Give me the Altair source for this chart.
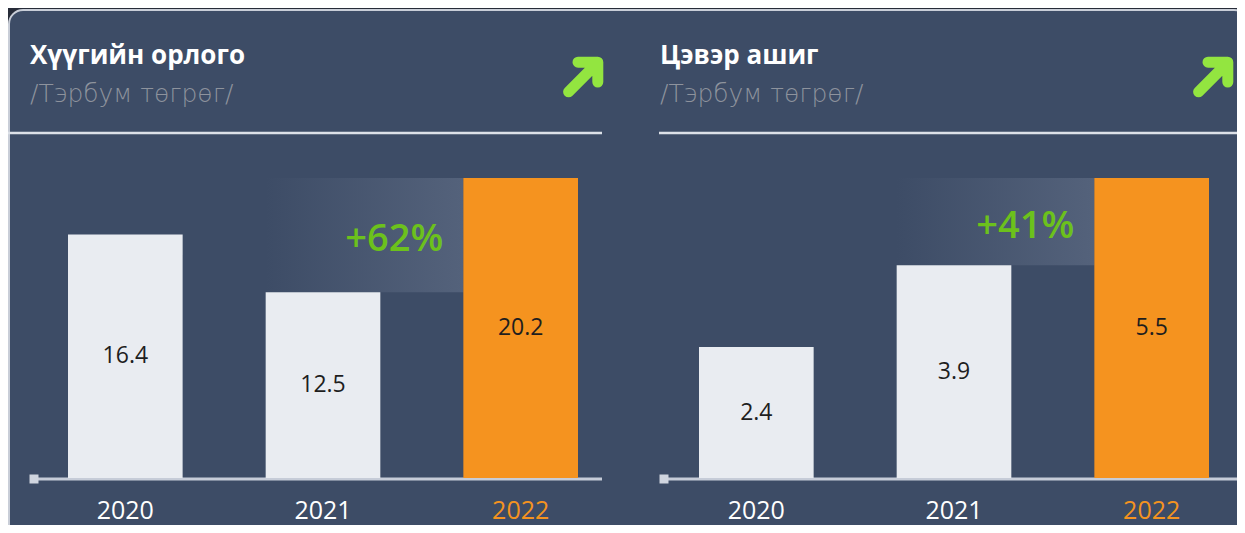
import altair as alt
import pandas as pd

# ---- data ----
years = ["2020", "2021", "2022"]
income = [16.4, 12.5, 20.2]        # Хүүгийн орлого, тэрбум төгрөг
profit = [2.4, 3.9, 5.5]           # Цэвэр ашиг, тэрбум төгрөг
titles = ["Хүүгийн орлого", "Цэвэр ашиг"]
subtitles = ["/Тэрбум төгрөг/", "/Тэрбум төгрөг/"]
growth = ["+62%", "+41%"]

# ---- style ----
OUTER = "#272c39"
PANEL = "#3d4c66"
BORDER = "#c9ced8"
LIGHT = "#e9ecf1"
ORANGE = "#f5931f"
GREEN_TXT = "#6cc11c"
GREEN_ARROW = "#93e540"
GREY = "#8e939d"
LINE = "#dde1e8"
FONT = "Open Sans"
W, H = 1229, 517

one = pd.DataFrame({"k": [0]})


def panel(values, label, x_range):
    df = pd.DataFrame({"year": years, "value": values})
    df["mid"] = df["value"] / 2
    band = pd.DataFrame({"from": [years[1]], "to": [years[2]],
                         "y1": [values[1]], "y2": [values[2]], "label": [label]})
    band["ym"] = (band["y1"] + band["y2"]) / 2
    xs = alt.Scale(domain=years, range=x_range, paddingInner=0.42, paddingOuter=0)
    ys = alt.Scale(domain=[0, values[2]], range=[470, 170], nice=False, zero=True)

    grad = alt.Chart(band).mark_rect(
        fill=alt.Gradient(gradient="linear",
                          stops=[alt.GradientStop(color=PANEL, offset=0),
                                 alt.GradientStop(color="#54627b", offset=1)],
                          x1=0, x2=1, y1=0, y2=0)
    ).encode(
        x=alt.X("from:O", scale=xs, axis=None, bandPosition=0),
        x2=alt.X2("to:O", bandPosition=0),
        y=alt.Y("y1:Q", scale=ys, axis=None),
        y2="y2:Q",
    )
    bars = alt.Chart(df).mark_bar().encode(
        x=alt.X("year:O", scale=xs, axis=None),
        y=alt.Y("value:Q", scale=ys, axis=None),
        color=alt.condition(alt.datum.year == years[2], alt.value(ORANGE), alt.value(LIGHT)),
    )
    vals = alt.Chart(df).mark_text(font=FONT, fontSize=23, color="#1e1e1e", baseline="middle").encode(
        x=alt.X("year:O", scale=xs, axis=None),
        y=alt.Y("mid:Q", scale=ys, axis=None),
        text=alt.Text("value:Q", format=".1f"),
    )
    yrs = alt.Chart(df).mark_text(font=FONT, fontSize=25, baseline="middle").encode(
        x=alt.X("year:O", scale=xs, axis=None),
        y=alt.value(503),
        text="year:N",
        color=alt.condition(alt.datum.year == years[2], alt.value(ORANGE), alt.value("white")),
    )
    pct = alt.Chart(band).mark_text(font=FONT, fontSize=38, fontWeight=600, color=GREEN_TXT,
                                    align="right", baseline="middle", dx=-20, dy=5).encode(
        x=alt.X("to:O", scale=xs, axis=None, bandPosition=0),
        y=alt.Y("ym:Q", scale=ys, axis=None),
        text="label:N",
    )
    return alt.layer(grad, bars, vals, yrs, pct)


bg = alt.Chart(one).mark_rect(fill=PANEL, stroke=BORDER, strokeWidth=2, cornerRadius=14).encode(
    x=alt.value(1), x2=alt.value(1240), y=alt.value(2), y2=alt.value(600))

dividers = [
    alt.Chart(one).mark_rule(color=LINE, strokeWidth=2.5).encode(
        x=alt.value(0), x2=alt.value(594), y=alt.value(125)),
    alt.Chart(one).mark_rule(color=LINE, strokeWidth=2.5).encode(
        x=alt.value(651), x2=alt.value(W), y=alt.value(125)),
]

baselines = [
    alt.Chart(one).mark_rule(color="#c6ccd8", strokeWidth=3).encode(
        x=alt.value(22), x2=alt.value(594), y=alt.value(471)),
    alt.Chart(one).mark_rule(color="#c6ccd8", strokeWidth=3).encode(
        x=alt.value(652), x2=alt.value(W), y=alt.value(471)),
    alt.Chart(one).mark_square(color="#d0d5df", size=81, opacity=1).encode(
        x=alt.value(26), y=alt.value(471)),
    alt.Chart(one).mark_square(color="#d0d5df", size=81, opacity=1).encode(
        x=alt.value(656), y=alt.value(471)),
]

texts = []
for i, xpos in enumerate([22, 652]):
    texts.append(alt.Chart(one).mark_text(font=FONT, fontSize=26, fontWeight="bold", color="white",
                                          align="left", baseline="alphabetic").encode(
        x=alt.value(xpos), y=alt.value(56), text=alt.value(titles[i])))
    texts.append(alt.Chart(one).mark_text(font="DejaVu Sans", fontSize=25, fontWeight=200, color=GREY,
                                          align="left", baseline="alphabetic").encode(
        x=alt.value(xpos), y=alt.value(94), text=alt.value(subtitles[i])))

ARROW = "M -0.72 0.74 L 0.66 -0.64 M -0.25 -0.74 L 0.74 -0.74 L 0.74 0.25"
arrows = [
    alt.Chart(one).mark_point(shape=ARROW, size=1600, filled=False, stroke=GREEN_ARROW,
                              strokeWidth=11, strokeCap="round", strokeJoin="round", opacity=1).encode(
        x=alt.value(xc), y=alt.value(69))
    for xc in [575, 1205]
]

left = panel(income, growth[0], [60, 570])
right = panel(profit, growth[1], [691, 1201])

chart = alt.layer(bg, *dividers, *baselines, *texts, *arrows, left, right).resolve_scale(
    x="independent", y="independent"
).properties(
    width=W, height=H, padding=0, autosize=alt.AutoSizeParams(type="none"), background=OUTER
).configure_view(stroke=None)

chart.save("out.html", embed_options={"renderer": "svg", "actions": False})
